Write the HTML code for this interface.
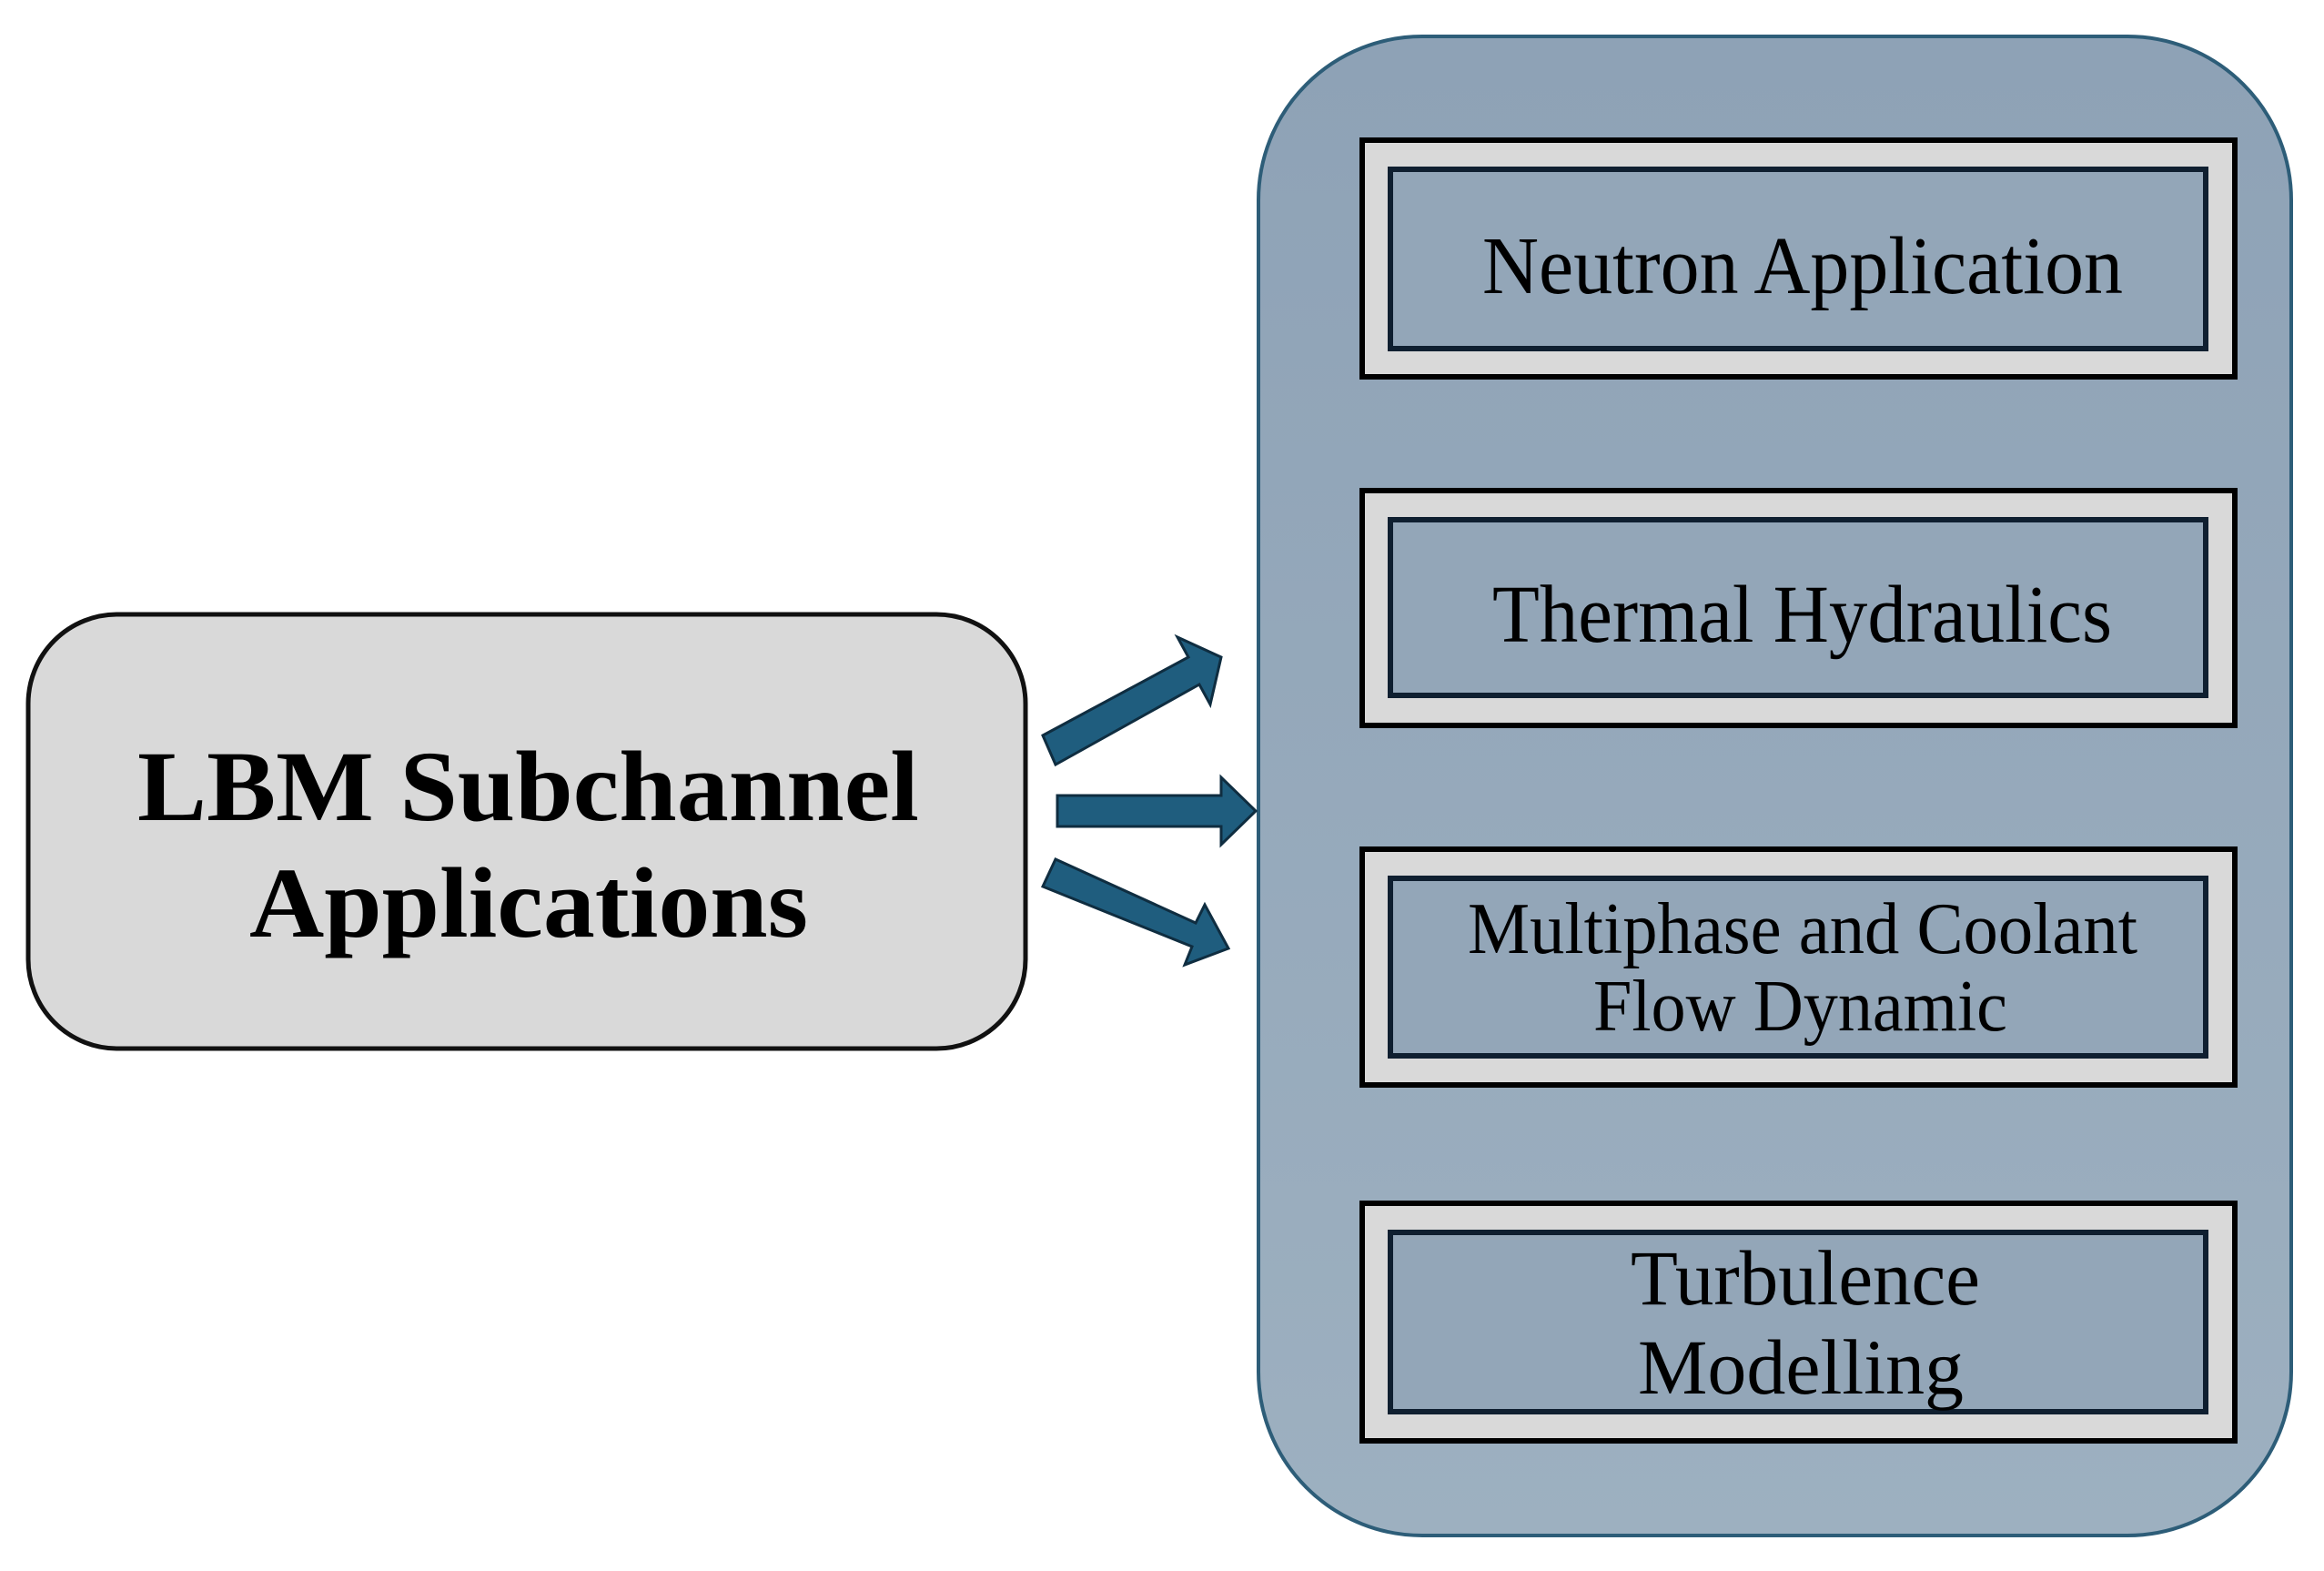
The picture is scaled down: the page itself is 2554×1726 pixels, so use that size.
<!DOCTYPE html>
<html><head><style>html,body{margin:0;padding:0;background:#fff}svg{display:block}</style></head>
<body>
<svg width="2554" height="1726" viewBox="0 0 2554 1726" xmlns="http://www.w3.org/2000/svg">
<defs>
<linearGradient id="pg" x1="0" y1="0" x2="0" y2="1">
<stop offset="0" stop-color="#8ea2b6"/><stop offset="1" stop-color="#9db0c0"/>
</linearGradient>
</defs>
<rect x="1383" y="40" width="1135" height="1647" rx="180" ry="180" fill="url(#pg)" stroke="#2d5d78" stroke-width="4"/>
<rect x="31" y="675" width="1096" height="477" rx="98" ry="98" fill="#d9d9d9" stroke="#111" stroke-width="5"/>
<g font-family="Liberation Serif, serif" font-weight="bold" font-size="110" fill="#000" text-anchor="start">
<text x="151" y="901" textLength="859" lengthAdjust="spacingAndGlyphs">LBM Subchannel</text>
<text x="274" y="1029" textLength="614" lengthAdjust="spacingAndGlyphs">Applications</text>
</g>
<g fill="#1f5d7e" stroke="#0f2d40" stroke-width="3" stroke-linejoin="miter">
<polygon points="1146,808 1306,722 1294,700 1342,722 1330,774 1318,752 1160,840"/>
<polygon points="1162,874 1342,874 1342,854 1380,891 1342,928 1342,908 1162,908"/>
<polygon points="1160,944 1314,1014 1324,994 1350,1042 1302,1060 1310,1040 1146,974"/>
</g>
<g fill="#d9d9d9" stroke="#000" stroke-width="6">
<rect x="1497" y="154" width="959" height="260"/>
<rect x="1497" y="539" width="959" height="258"/>
<rect x="1497" y="933" width="959" height="259"/>
<rect x="1497" y="1322" width="959" height="261"/>
</g>
<g fill="#93a6b8" stroke="#0f1f30" stroke-width="6">
<rect x="1528" y="186" width="896" height="197"/>
<rect x="1528" y="571" width="896" height="193"/>
<rect x="1528" y="965" width="896" height="195"/>
<rect x="1528" y="1354" width="896" height="197"/>
</g>
<g font-family="Liberation Serif, serif" fill="#000">
<text x="1629" y="322" font-size="90" textLength="704" lengthAdjust="spacingAndGlyphs">Neutron Application</text>
<text x="1640" y="705" font-size="90" textLength="681" lengthAdjust="spacingAndGlyphs">Thermal Hydraulics</text>
<text x="1613" y="1047" font-size="80" textLength="736" lengthAdjust="spacingAndGlyphs">Multiphase and Coolant</text>
<text x="1751" y="1132" font-size="80" textLength="455" lengthAdjust="spacingAndGlyphs">Flow Dynamic</text>
<text x="1792" y="1433" font-size="86" textLength="384" lengthAdjust="spacingAndGlyphs">Turbulence</text>
<text x="1800" y="1531" font-size="86" textLength="358" lengthAdjust="spacingAndGlyphs">Modelling</text>
</g>
</svg>
</body></html>
